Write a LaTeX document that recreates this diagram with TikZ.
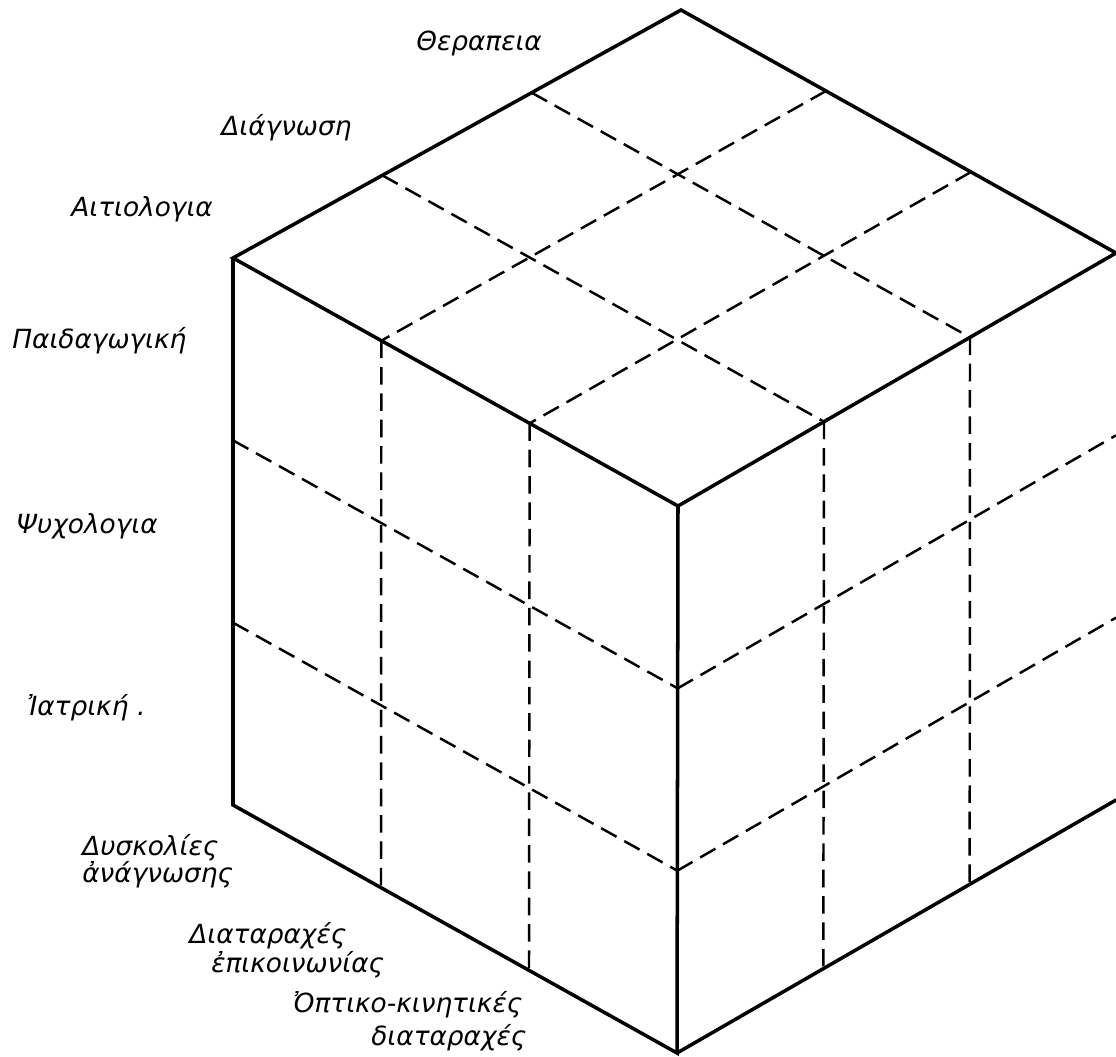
\documentclass[tikz,border=0pt]{standalone}
\usepackage{fontspec}
\setmainfont{DejaVu Sans}
\usetikzlibrary{calc}
\begin{document}
\begin{tikzpicture}[x=0.02cm,y=-0.02cm,
  edge/.style={line width=2pt, line join=miter, line cap=round},
  gridline/.style={line width=1.4pt, dash pattern=on 10pt off 5pt},
  lbl/.style={anchor=base west, inner sep=0pt, font=\fontsize{15}{18}\selectfont\itshape}]
\useasboundingbox (0,0) rectangle (1116,1056);
% cube vertices
\coordinate (T) at (681,10);
\coordinate (R) at (1116,253);
\coordinate (F) at (678,506);
\coordinate (L) at (233,258);
\coordinate (BF) at (677,1053);
\coordinate (BL) at (233,805);
\coordinate (BR) at (1116,800);
% top face grid
\foreach \t in {1/3,2/3} {
  \draw[gridline] ($(T)!\t!(R)$) -- ($(L)!\t!(F)$);
  \draw[gridline] ($(T)!\t!(L)$) -- ($(R)!\t!(F)$);
  % left face grid
  \draw[gridline] ($(L)!\t!(F)$) -- ($(BL)!\t!(BF)$);
  \draw[gridline] ($(L)!\t!(BL)$) -- ($(F)!\t!(BF)$);
  % right face grid
  \draw[gridline] ($(F)!\t!(R)$) -- ($(BF)!\t!(BR)$);
  \draw[gridline] ($(F)!\t!(BF)$) -- ($(R)!\t!(BR)$);
}
% solid edges
\draw[edge] (L) -- (T) -- (R) -- (F) -- cycle;
\draw[edge] (L) -- (BL) -- (BF) -- (F);
\draw[edge] (BF) -- (BR);
% labels
\node[lbl] (ther) at (416,50) {Θεραπεια};
\node[lbl] (diag) at (221,135) {Διάγνωση};
\node[lbl] (aitio) at (71,216) {Αιτιολογια};
\node[lbl] (paid) at (12,348) {Παιδαγωγική};
\node[lbl] (psych) at (16,533) {Ψυχολογια};
\node[lbl] (iatr) at (27,715) {Ἰατρική\,\,.};
\node[lbl] (dysk1) at (82,855) {Δυσκολίες};
\node[lbl] (dysk2) at (82,882) {ἀνάγνωσης};
\node[lbl] (diat1) at (189,943) {Διαταραχές};
\node[lbl] (diat2) at (211,972) {ἐπικοινωνίας};
\node[lbl] (opt1) at (293,1012) {Ὀπτικο-κινητικές};
\node[lbl] (opt2) at (371,1045) {διαταραχές};
\end{tikzpicture}
\end{document}
